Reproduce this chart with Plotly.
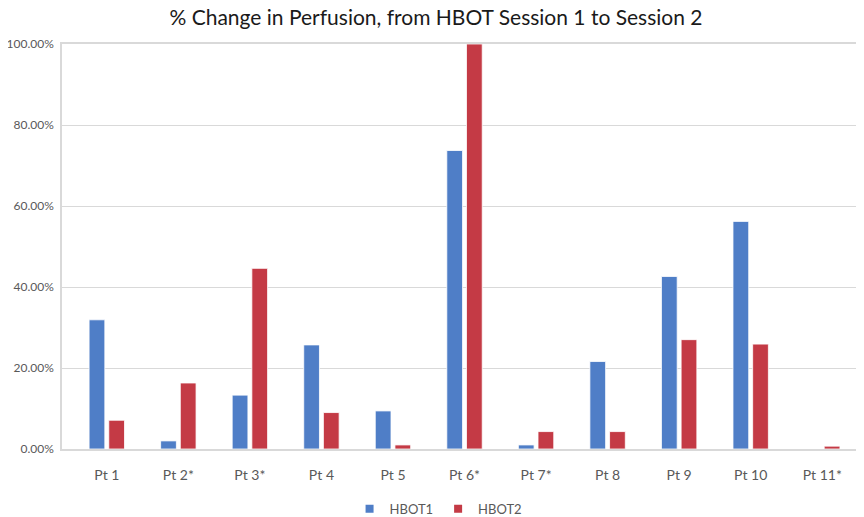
import plotly.graph_objects as go

categories = ["Pt 1", "Pt 2*", "Pt 3*", "Pt 4", "Pt 5", "Pt 6*", "Pt 7*", "Pt 8", "Pt 9", "Pt 10", "Pt 11*"]
hbot1 = [0.319, 0.020, 0.133, 0.257, 0.094, 0.737, 0.010, 0.216, 0.426, 0.562, 0.0]
hbot2 = [0.071, 0.163, 0.446, 0.090, 0.010, 1.000, 0.043, 0.043, 0.270, 0.259, 0.007]
series_names = ["HBOT1", "HBOT2"]
y_ticks = [0, 0.2, 0.4, 0.6, 0.8, 1.0]

BLUE = "#4F7EC7"
RED = "#C43A45"
TXT = "#595959"
GRID = "#D9D9D9"

fig = go.Figure()
for name, vals, col in zip(series_names, [hbot1, hbot2], [BLUE, RED]):
    fig.add_trace(go.Bar(x=categories, y=vals, name=name, showlegend=False,
                         marker=dict(color=col, line=dict(color="white", width=0.8))))
# legend entries with small square swatches
for name, col in zip(series_names, [BLUE, RED]):
    fig.add_trace(go.Scatter(x=[categories[0]], y=[None], name=name, mode="markers",
                             marker=dict(symbol="square", size=8, color=col), showlegend=True))

# page body has an 8px margin, so the figure is sized/offset to compensate
fig.update_layout(
    width=856, height=509,
    margin=dict(l=54, r=6, t=36, b=68, autoexpand=False),
    paper_bgcolor="white", plot_bgcolor="white",
    font=dict(family="Lato, Open Sans, sans-serif", color=TXT, size=13),
    title=dict(text="% Change in Perfusion, from HBOT Session 1 to Session 2",
               x=0.5, xanchor="center", y=0.981, yanchor="middle",
               font=dict(size=21, color="#1a1a1a")),
    barmode="group", bargap=0.45, bargroupgap=0.2,
    showlegend=True,
    legend=dict(orientation="h", xref="container", yref="container",
                x=0.503, xanchor="center", y=0.016, yanchor="middle",
                font=dict(size=13, color=TXT), itemwidth=30, tracegroupgap=0),
)
fig.update_xaxes(showline=True, linecolor=GRID, linewidth=1.5, mirror=True, automargin=False,
                 showgrid=False, ticks="", tickfont=dict(size=14, color=TXT), ticklabelstandoff=12)
fig.update_yaxes(range=[0, 1.0], tickvals=y_ticks, tickformat=".2%", automargin=False,
                 showline=True, linecolor=GRID, linewidth=1.5, mirror=True,
                 showgrid=True, gridcolor=GRID, gridwidth=1, zeroline=False,
                 ticks="", tickfont=dict(size=12, color=TXT), ticklabelstandoff=4)

fig.write_html("out.html")
